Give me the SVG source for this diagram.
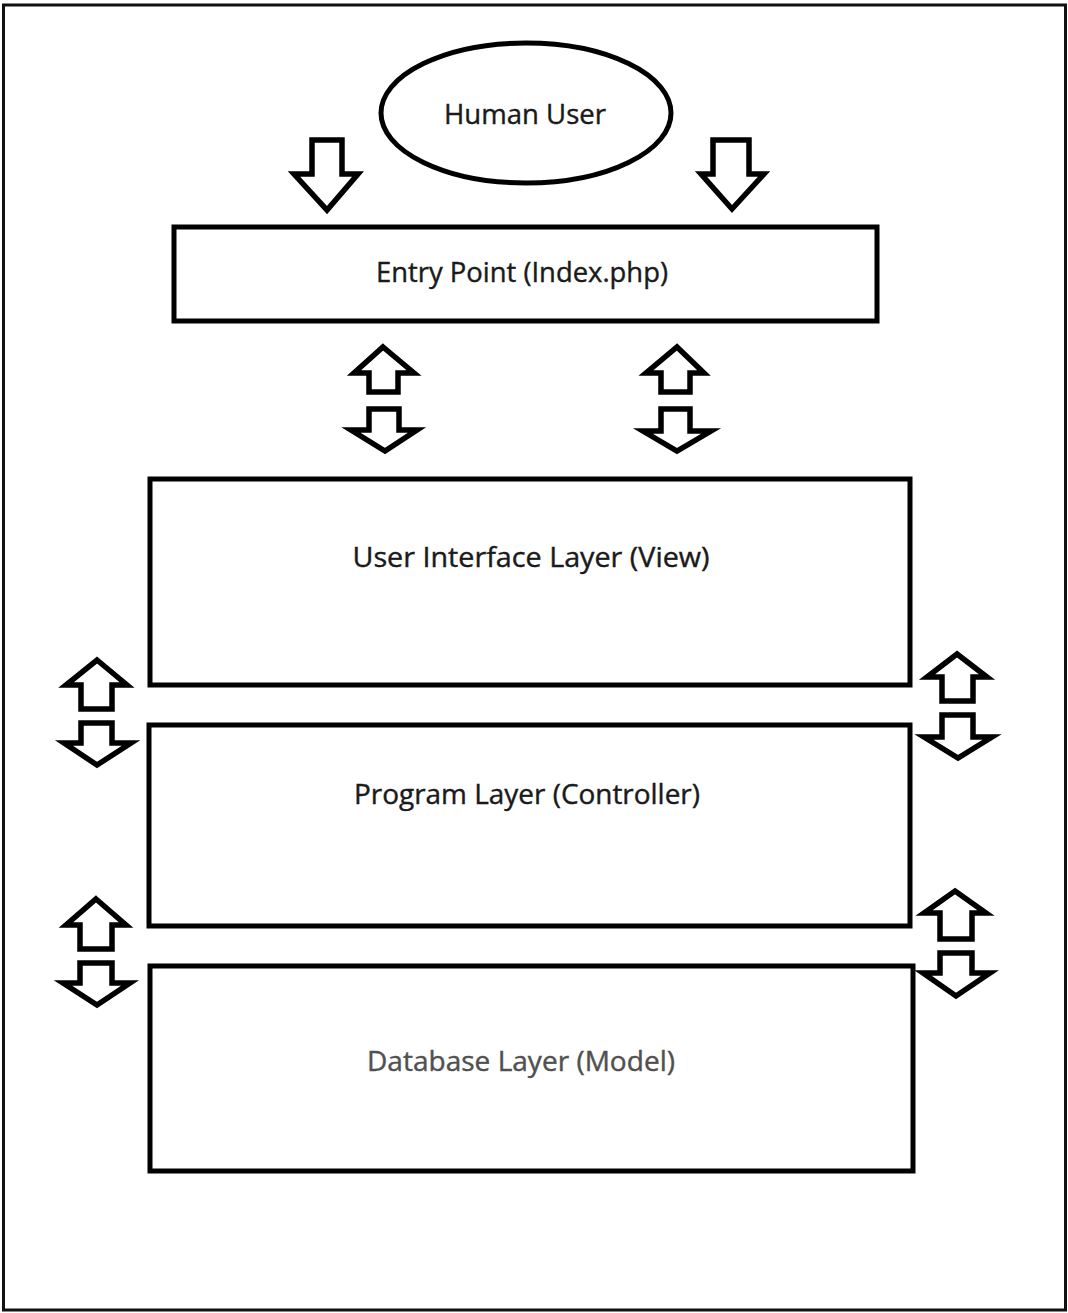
<svg xmlns="http://www.w3.org/2000/svg" width="1068" height="1313" viewBox="0 0 1068 1313">
<style>
.frame{fill:#fff;stroke:#111;stroke-width:3}
.box{fill:#fff;stroke:#000;stroke-width:5}
.arrow{fill:#fff;stroke:#000;stroke-width:5.5;stroke-linejoin:miter}
.lbl{font-family:"Open Sans","Noto Sans",sans-serif;font-size:27px;fill:#1a1a1a;stroke:#1a1a1a;stroke-width:0.4;text-anchor:middle}
</style>
<rect class="frame" x="3.5" y="5" width="1062" height="1305"/>
<g id="human-user">
<ellipse class="box" cx="526" cy="113" rx="145" ry="70" stroke-width="4"/>
<text class="lbl" x="525" y="124" textLength="162" lengthAdjust="spacingAndGlyphs">Human User</text>
</g>
<g id="entry-point">
<rect class="box" x="174" y="227" width="703" height="94"/>
<text class="lbl" x="522" y="282" textLength="292" lengthAdjust="spacingAndGlyphs">Entry Point (Index.php)</text>
</g>
<g id="view-layer">
<rect class="box" x="150" y="479" width="760" height="206"/>
<text class="lbl" x="531" y="567" textLength="357" lengthAdjust="spacingAndGlyphs">User Interface Layer (View)</text>
</g>
<g id="controller-layer">
<rect class="box" x="149" y="725" width="761" height="201"/>
<text class="lbl" x="527" y="804" textLength="346" lengthAdjust="spacingAndGlyphs">Program Layer (Controller)</text>
</g>
<g id="model-layer">
<rect class="box" x="150" y="966" width="763" height="205"/>
<text class="lbl" x="521" y="1071" textLength="308" lengthAdjust="spacingAndGlyphs" style="fill:#505050;stroke:#505050">Database Layer (Model)</text>
</g>
<g id="connectors">
<!-- user to entry -->
<polygon class="arrow" points="312,140 342,140 342,174 358,174 327,210 294,174 312,174"/>
<polygon class="arrow" points="713,140 749,140 749,174 764,174 732,209 701,174 713,174"/>
<!-- entry <-> view -->
<polygon class="arrow" points="383,347 414,373 398,373 398,392 369,392 369,373 354,373"/>
<polygon class="arrow" points="369,409 399,409 399,430 417,430 385,451 351,430 369,430"/>
<polygon class="arrow" points="677,347 704,373 690,373 690,392 661,392 661,373 646,373"/>
<polygon class="arrow" points="661,409 690,409 690,431 711,431 677,451 643,431 661,431"/>
<!-- view <-> controller -->
<polygon class="arrow" points="97,660 127,685 112,685 112,709 81,709 81,685 66,685"/>
<polygon class="arrow" points="81,723 112,723 112,743 131,743 97,765 64,743 81,743"/>
<polygon class="arrow" points="957,654 987,677 973,677 973,701 942,701 942,677 927,677"/>
<polygon class="arrow" points="942,715 973,715 973,737 992,737 958,758 924,737 942,737"/>
<!-- controller <-> model -->
<polygon class="arrow" points="96,899 126,925 112,925 112,949 80,949 80,925 66,925"/>
<polygon class="arrow" points="80,963 112,963 112,983 130,983 97,1005 63,983 80,983"/>
<polygon class="arrow" points="955,891 986,913 972,913 972,939 940,939 940,913 924,913"/>
<polygon class="arrow" points="940,953 972,953 972,973 990,973 956,996 923,973 940,973"/>
</g>
</svg>
